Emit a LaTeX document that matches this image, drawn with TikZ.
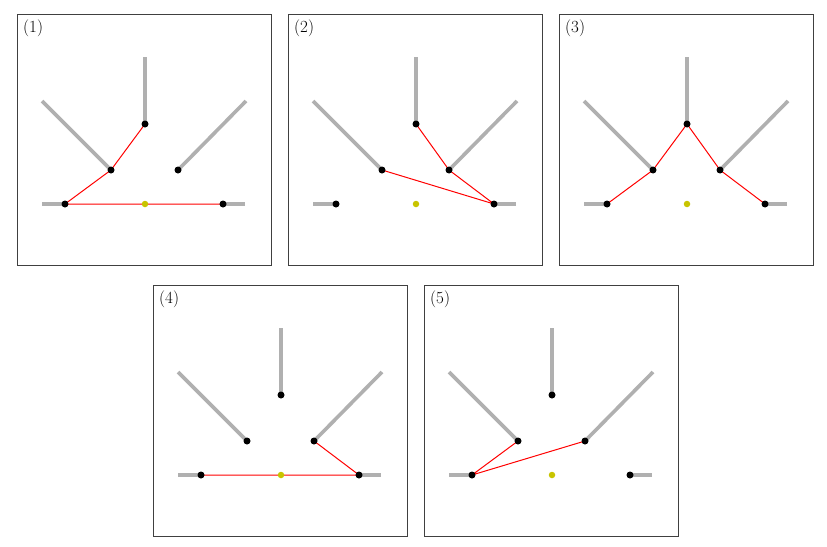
\documentclass[tikz,border=0pt]{standalone}
\usepackage{fontspec}
\setmainfont{Latin Modern Roman}
\pgfdeclarelayer{bg}
\pgfsetlayers{bg,main}
\definecolor{raygray}{HTML}{B0B0B0}
\definecolor{ctryellow}{HTML}{C8C400}
\definecolor{framegray}{HTML}{404040}
\tikzset{
  frame/.style={draw=framegray, line width=0.9pt},
  ray/.style={draw=raygray, line width=3.6pt},
  redpath/.style={draw=red, line width=1pt},
  pt/.style={circle, fill=black, inner sep=0pt, minimum size=7pt},
  ctr/.style={circle, fill=ctryellow, inner sep=0pt, minimum size=6.5pt},
  lbl/.style={anchor=north west, inner sep=0pt, font=\fontsize{17}{20}\selectfont}
}
\newcommand\mypanel[4]{%
  \begin{scope}[shift={(#2,#3)}]
    \draw[frame] (0,0) rectangle (254,251);
    \node[lbl] (#1lab) at (6,6) {#4};
    \begin{scope}[shift={(128,190)}]
      \coordinate (#1vo) at (0,-147);
      \coordinate (#1dlo) at (-103,-103);
      \coordinate (#1dro) at (101,-103);
      \coordinate (#1hlo) at (-103,0);
      \coordinate (#1hro) at (100,0);
      \node[pt] (#1v) at (0,-80) {};
      \node[pt] (#1dl) at (-34,-34) {};
      \node[pt] (#1dr) at (33,-34) {};
      \node[pt] (#1hl) at (-80,0) {};
      \node[pt] (#1hr) at (78,0) {};
      \node[ctr] (#1o) at (0,0) {};
      \begin{pgfonlayer}{bg}
        \draw[ray] (#1vo) -- (#1v.center);
        \draw[ray] (#1dlo) -- (#1dl.center);
        \draw[ray] (#1dro) -- (#1dr.center);
        \draw[ray] (#1hlo) -- (#1hl.center);
        \draw[ray] (#1hro) -- (#1hr.center);
      \end{pgfonlayer}
    \end{scope}
  \end{scope}}
\begin{document}
\begin{tikzpicture}[x=1pt,y=-1pt]
  \useasboundingbox (0,0) rectangle (827,546);
  \mypanel{a}{17}{14}{(1)}
  \mypanel{b}{288}{14}{(2)}
  \mypanel{c}{559}{14}{(3)}
  \mypanel{d}{153}{285}{(4)}
  \mypanel{e}{424}{285}{(5)}
  \begin{pgfonlayer}{bg}
    \draw[redpath] (av.center) -- (adl.center) -- (ahl.center) -- (ahr.center);
    \draw[redpath] (bv.center) -- (bdr.center) -- (bhr.center) -- (bdl.center);
    \draw[redpath] (chl.center) -- (cdl.center) -- (cv.center) -- (cdr.center) -- (chr.center);
    \draw[redpath] (dhl.center) -- (dhr.center) -- (ddr.center);
    \draw[redpath] (edl.center) -- (ehl.center) -- (edr.center);
  \end{pgfonlayer}
\end{tikzpicture}
\end{document}
